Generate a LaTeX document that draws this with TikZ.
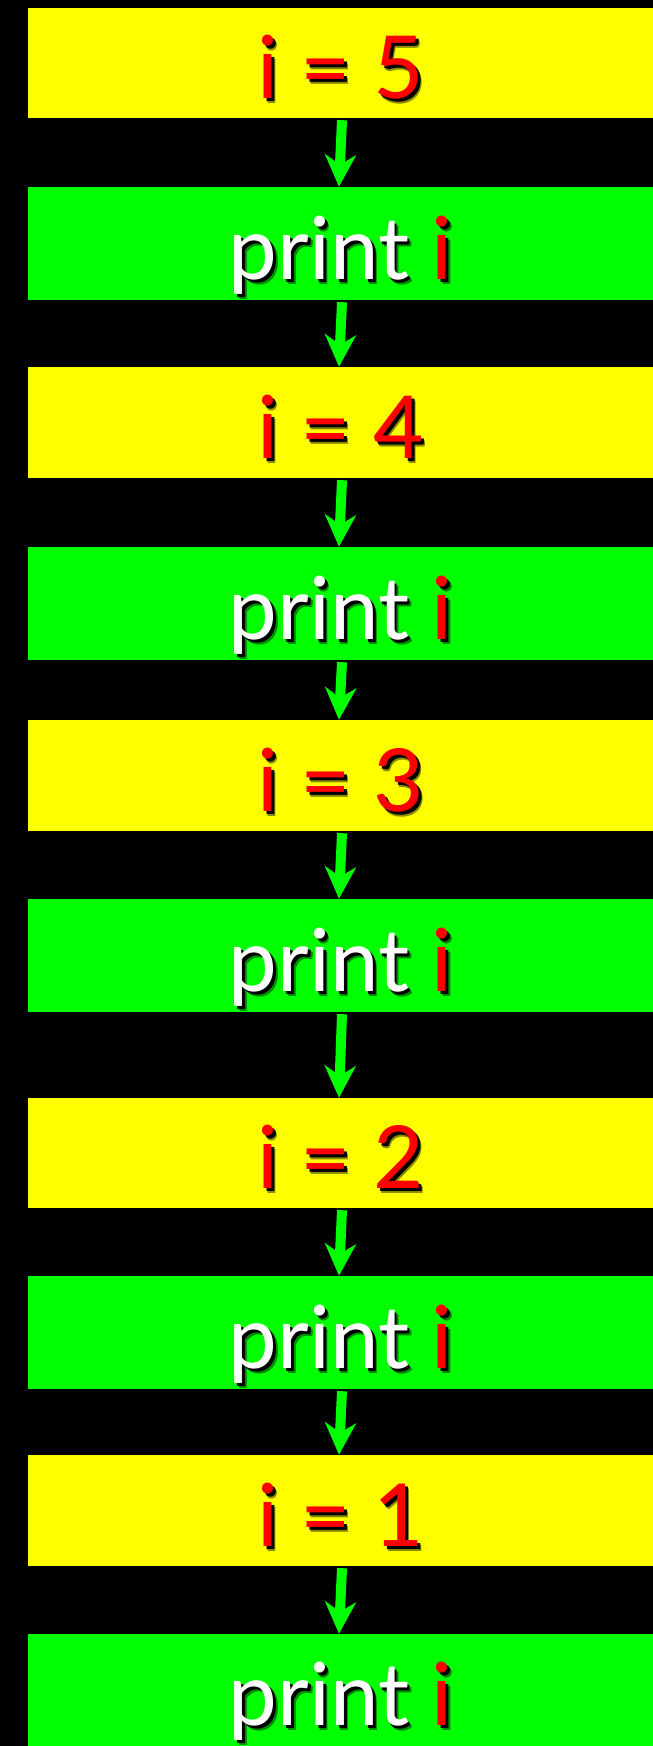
\documentclass[tikz,border=0pt]{standalone}
\usepackage{fontspec}
\setmainfont{Lato}
\usetikzlibrary{arrows.meta}
\definecolor{byellow}{RGB}{255,255,0}
\definecolor{bgreen}{RGB}{0,255,0}
\definecolor{bred}{RGB}{255,0,0}
\tikzset{
  box/.style={rectangle, draw=none, inner sep=0pt, minimum width=625pt},
  ybox/.style={box, fill=byellow},
  gbox/.style={box, fill=bgreen},
  lbl/.style={anchor=base, inner sep=0pt, font=\fontsize{87}{100}\selectfont},
  flow/.style={draw=bgreen, line width=10pt, -{Stealth[length=32pt,width=31pt,inset=10pt]}}
}
% #1 background colour, #2 plain text (for the shadow), #3 coloured text
\newcommand{\shtext}[3]{%
  \rlap{\hspace{4.5pt}\raisebox{-4.5pt}{\color{black!45!#1}#2}}%
  \rlap{\hspace{3pt}\raisebox{-3pt}{\color{black}#2}}%
  #3}
\newcommand{\assign}[3]{%
  \node[lbl] (#1t) at (340.5,#2) {\shtext{byellow}{i = #3}{\textcolor{bred}{i = #3}}};
}
\newcommand{\printi}[2]{%
  \node[lbl] (#1t) at (340.5,#2) {\shtext{bgreen}{print i}{\textcolor{white}{print }\textcolor{bred}{i}}};
}
\begin{document}
\begin{tikzpicture}[x=1pt,y=1pt]
\fill[black] (0,0) rectangle (653,1746);
\useasboundingbox (0,0) rectangle (653,1746);
\node[ybox, minimum height=110pt] (y1) at (340.5,1683) {};
\node[gbox, minimum height=113pt] (g1) at (340.5,1502.5) {};
\node[ybox, minimum height=111pt] (y2) at (340.5,1323.5) {};
\node[gbox, minimum height=113pt] (g2) at (340.5,1142.5) {};
\node[ybox, minimum height=111pt] (y3) at (340.5,970.5) {};
\node[gbox, minimum height=113pt] (g3) at (340.5,790.5) {};
\node[ybox, minimum height=110pt] (y4) at (340.5,593) {};
\node[gbox, minimum height=113pt] (g4) at (340.5,413.5) {};
\node[ybox, minimum height=111pt] (y5) at (340.5,235.5) {};
\node[gbox, minimum height=112pt] (g5) at (340.5,56) {};
\assign{y1}{1647}{5}
\printi{g1}{1466}
\assign{y2}{1287}{4}
\printi{g2}{1106}
\assign{y3}{934}{3}
\printi{g3}{754}
\assign{y4}{557}{2}
\printi{g4}{377}
\assign{y5}{199}{1}
\printi{g5}{20}
\foreach \a/\b in {y1/g1,g1/y2,y2/g2,g2/y3,y3/g3,g3/y4,y4/g4,g4/y5,y5/g5}{
  \draw[flow] ([xshift=1.5pt,yshift=-2pt]\a.south) -- ([xshift=-1.5pt]\b.north);
}
\end{tikzpicture}
\end{document}
